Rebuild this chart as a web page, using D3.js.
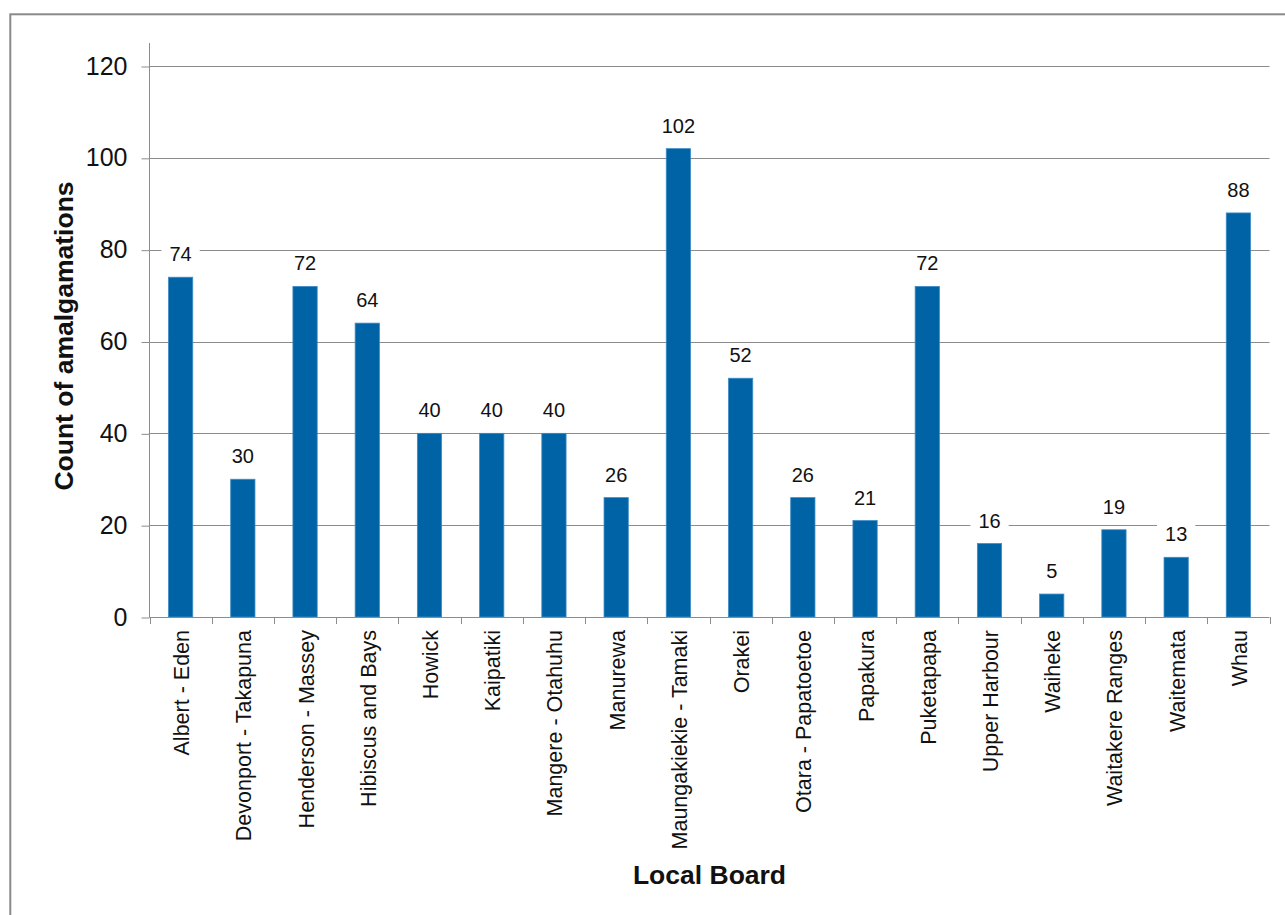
<!DOCTYPE html>
<html>
<head>
<meta charset="utf-8">
<script src="https://cdn.jsdelivr.net/npm/d3@7"></script>
<style>
  html, body { margin: 0; padding: 0; background: #fff; overflow: hidden; }
  svg { display: block; font-family: "Liberation Sans", Arial, sans-serif; }
</style>
</head>
<body>
<svg id="chart" width="1285" height="915"></svg>
<script>
// Amalgamations per Auckland local board
const categories = [
  "Albert - Eden", "Devonport - Takapuna", "Henderson - Massey", "Hibiscus and Bays",
  "Howick", "Kaipatiki", "Mangere - Otahuhu", "Manurewa", "Maungakiekie - Tamaki",
  "Orakei", "Otara - Papatoetoe", "Papakura", "Puketapapa", "Upper Harbour",
  "Waiheke", "Waitakere Ranges", "Waitemata", "Whau"
];
const counts = [74, 30, 72, 64, 40, 40, 40, 26, 102, 52, 26, 21, 72, 16, 5, 19, 13, 88];
const yTicks = [0, 20, 40, 60, 80, 100, 120];
const yTitle = "Count of amalgamations";
const xTitle = "Local Board";

const svg = d3.select("#chart");

// outer frame
svg.append("rect")
  .attr("x", 10.3).attr("y", 14.3)
  .attr("width", 1400).attr("height", 1000)
  .attr("fill", "none").attr("stroke", "#8a8a8a").attr("stroke-width", 2);

const plotLeft = 149.5, plotRight = 1269.5, plotTop = 66, plotBottom = 617;

const x = d3.scaleBand().domain(categories).range([plotLeft, plotRight]).paddingInner(0).paddingOuter(0);
const y = d3.scaleLinear().domain([0, 120]).range([plotBottom, plotTop]);

const gridColor = "#8c8c8c";

// horizontal gridlines
svg.append("g")
  .selectAll("line")
  .data(yTicks.filter(d => d > 0))
  .join("line")
  .attr("x1", plotLeft).attr("x2", plotRight)
  .attr("y1", d => Math.round(y(d)) + 0.5).attr("y2", d => Math.round(y(d)) + 0.5)
  .attr("stroke", gridColor).attr("stroke-width", 1);

// y axis
const yAxis = svg.append("g")
  .attr("transform", `translate(${plotLeft},0)`)
  .call(d3.axisLeft(y).tickValues(yTicks).tickSize(8).tickPadding(14).tickFormat(d3.format("d")));
yAxis.select(".domain").remove();
yAxis.selectAll(".tick line").attr("stroke", gridColor)
  .attr("transform", "translate(0,0.5)");
yAxis.selectAll(".tick text")
  .attr("font-size", 25).attr("fill", "#111").attr("font-family", "Liberation Sans, Arial, sans-serif");
svg.append("line")
  .attr("x1", plotLeft).attr("x2", plotLeft).attr("y1", 43).attr("y2", plotBottom + 0.5)
  .attr("stroke", gridColor);

// bars
svg.append("g")
  .selectAll("rect")
  .data(counts)
  .join("rect")
  .attr("x", (d, i) => x(categories[i]) + x.bandwidth() * 0.305)
  .attr("width", x.bandwidth() * 0.39)
  .attr("y", d => y(d))
  .attr("height", d => plotBottom - y(d))
  .attr("fill", "#0063a6")
  .attr("stroke", "#3d8cc6").attr("stroke-width", 0.8);

// x axis with ticks on band boundaries
svg.append("line")
  .attr("x1", plotLeft).attr("x2", plotRight).attr("y1", plotBottom + 0.5).attr("y2", plotBottom + 0.5)
  .attr("stroke", gridColor);
const boundaries = categories.map(c => x(c)).concat([plotRight]);
svg.append("g")
  .selectAll("line")
  .data(boundaries)
  .join("line")
  .attr("x1", d => Math.round(d) + 0.5).attr("x2", d => Math.round(d) + 0.5)
  .attr("y1", plotBottom).attr("y2", plotBottom + 7)
  .attr("stroke", gridColor);

// category labels, rotated
svg.append("g")
  .selectAll("text")
  .data(categories)
  .join("text")
  .attr("transform", d => `translate(${x(d) + x.bandwidth() / 2 + 1},${plotBottom + 13}) rotate(-90)`)
  .attr("text-anchor", "end")
  .attr("dy", "0.35em")
  .attr("font-size", 21.5)
  .attr("fill", "#111")
  .text(d => d);

// value labels with white backing
const labels = svg.append("g")
  .selectAll("g")
  .data(counts)
  .join("g")
  .attr("transform", (d, i) => `translate(${x(categories[i]) + x.bandwidth() / 2},${y(d) - 16})`);
labels.append("text")
  .attr("text-anchor", "middle")
  .attr("font-size", 20)
  .attr("fill", "#111")
  .text(d => d);
labels.each(function () {
  const g = d3.select(this);
  const bb = g.select("text").node().getBBox();
  g.insert("rect", "text")
    .attr("x", bb.x - 8).attr("y", -19)
    .attr("width", bb.width + 16).attr("height", 25)
    .attr("fill", "#fff");
});

// axis titles
svg.append("text")
  .attr("transform", `translate(73,336) rotate(-90)`)
  .attr("text-anchor", "middle")
  .attr("font-size", 26.5).attr("font-weight", "bold").attr("fill", "#111")
  .text(yTitle);
svg.append("text")
  .attr("x", (plotLeft + plotRight) / 2).attr("y", 884)
  .attr("text-anchor", "middle")
  .attr("font-size", 26.5).attr("font-weight", "bold").attr("fill", "#111")
  .text(xTitle);
</script>
</body>
</html>
